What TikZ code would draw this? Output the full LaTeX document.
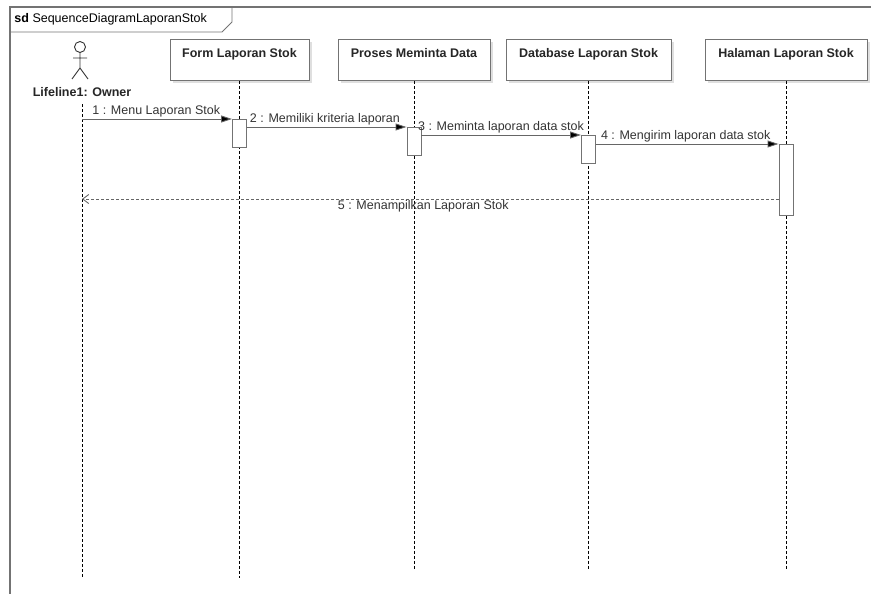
\documentclass[tikz,border=0pt]{standalone}
\usepackage{fontspec}
\setmainfont{Liberation Sans}
\usetikzlibrary{arrows.meta, shadows, positioning}

\tikzset{
    obj/.style={draw=gray!90!black, fill=white, minimum width=139pt, minimum height=41pt, anchor=north,
        drop shadow={shadow xshift=2.5pt, shadow yshift=-2.5pt, opacity=0.25}},
    life/.style={dashed, dash pattern=on 3pt off 2pt, black},
    act/.style={draw=gray!90!black, fill=white, minimum width=14pt, anchor=north, inner sep=0pt},
    msg/.style={draw=gray!80!black, -{Triangle[length=11pt, width=7pt, fill=black]}},
    ret/.style={draw=gray!80!black, dashed, dash pattern=on 3pt off 2pt, -{Straight Barb[length=6pt, width=9pt]}},
    lbl/.style={font=\fontsize{12.5}{13}\selectfont, text=black!80, inner sep=1pt},
    head/.style={font=\bfseries\fontsize{12.5}{13}\selectfont, text=black!85}
}

\begin{document}
\begin{tikzpicture}[x=1pt, y=-1pt, line width=0.9pt]
    \useasboundingbox (0,0) rectangle (871,594);

    % frame
    \draw[gray!90!black, line width=1.2pt] (10,600) -- (10,7) -- (880,7);
    \draw[gray!90!black] (10,32) -- (222,32) -- (232,22) -- (232,7);
    \node[anchor=west, font=\fontsize{12.5}{13}\selectfont, inner sep=0pt] (title) at (14,19) {\textbf{sd}\ SequenceDiagramLaporanStok};

    % actor
    \draw[black!80] (80,47) circle (5.5pt);
    \draw[black!80] (80,52.5) -- (80,68) (73,58) -- (87,58) (72,79) -- (80,68) -- (88,79);
    \node[head] (owner) at (82,92) {Lifeline1: Owner};

    % objects
    \node[obj, minimum width=139pt] (form) at (239.5,39) {};
    \node[obj, minimum width=152pt] (proses) at (414,39) {};
    \node[obj, minimum width=165pt] (db) at (588.5,39) {};
    \node[obj, minimum width=162pt] (hal) at (786,39) {};
    \foreach \o/\t in {form/Form Laporan Stok, proses/Proses Meminta Data, db/Database Laporan Stok, hal/Halaman Laporan Stok}
        \node[head, anchor=north] at ([yshift=-6pt]\o.north) {\t};

    % lifelines
    \coordinate (ownerend) at (82,578);
    \draw[life] (owner.south) ++(0,4) coordinate (ownertop) -- (ownerend);
    \draw[life] (form.south) -- (form.south |- 0,578);
    \draw[life] (proses.south) -- (proses.south |- 0,570);
    \draw[life] (db.south) -- (db.south |- 0,570);
    \draw[life] (hal.south) -- (hal.south |- 0,570);

    % activations
    \node[act, minimum height=28pt] (a1) at (form.south |- 0,119) {};
    \node[act, minimum height=28pt] (a2) at (proses.south |- 0,127) {};
    \node[act, minimum height=28pt] (a3) at (db.south |- 0,135) {};
    \node[act, minimum height=71pt] (a4) at (hal.south |- 0,144) {};

    % messages
    \coordinate (o1) at (82,119);
    \coordinate (o5) at (82,199);
    \draw[msg] (o1) -- (a1.north west) node[lbl, pos=0.06, above right] {1 : Menu Laporan Stok};
    \draw[msg] ([yshift=-8pt]a1.north east) -- (a2.north west) node[lbl, pos=0.01, above right] {2 : Memiliki kriteria laporan};
    \draw[msg] ([yshift=-8pt]a2.north east) -- (a3.north west) node[lbl, pos=-0.03, above right] {3 : Meminta laporan data stok};
    \draw[msg] ([yshift=-9pt]a3.north east) -- (a4.north west) node[lbl, pos=0.02, above right] {4 : Mengirim laporan data stok};
    \draw[ret] ([yshift=-55pt]a4.north west) -- (o5) node[lbl, pos=0.51, below] {5 : Menampilkan Laporan Stok};
\end{tikzpicture}
\end{document}
